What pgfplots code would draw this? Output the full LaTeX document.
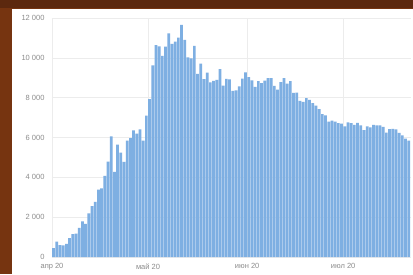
\documentclass[border=0pt]{standalone}
\usepackage{fontspec}
\setmainfont{Liberation Sans}
\usepackage{pgfplots}
\pgfplotsset{compat=1.18}
\usepackage{pgfplotstable}
\definecolor{framec}{RGB}{118,52,16}
\definecolor{framedark}{RGB}{92,40,14}
\definecolor{barc}{RGB}{126,175,226}
\definecolor{gridc}{RGB}{236,236,236}
\definecolor{tickc}{RGB}{140,140,140}
\pgfplotstableread{
d v
0 440
1 771
2 601
3 582
4 658
5 954
6 1154
7 1175
8 1459
9 1786
10 1667
11 2186
12 2558
13 2774
14 3388
15 3448
16 4070
17 4785
18 6060
19 4268
20 5642
21 5236
22 4774
23 5849
24 5966
25 6361
26 6198
27 6411
28 5841
29 7099
30 7933
31 9623
32 10633
33 10581
34 10102
35 10559
36 11231
37 10699
38 10817
39 11012
40 11656
41 10899
42 10028
43 9974
44 10598
45 9200
46 9709
47 8926
48 9263
49 8764
50 8849
51 8894
52 9434
53 8599
54 8946
55 8915
56 8338
57 8371
58 8572
59 8952
60 9268
61 9035
62 8863
63 8536
64 8831
65 8726
66 8855
67 8984
68 8985
69 8595
70 8404
71 8779
72 8987
73 8706
74 8835
75 8246
76 8248
77 7843
78 7790
79 7972
80 7889
81 7728
82 7600
83 7425
84 7176
85 7113
86 6800
87 6852
88 6791
89 6719
90 6693
91 6556
92 6760
93 6718
94 6632
95 6736
96 6611
97 6368
98 6562
99 6509
100 6635
101 6611
102 6615
103 6537
104 6248
105 6422
106 6428
107 6406
108 6234
109 6109
110 5940
111 5842
}\cases
\begin{document}
\begin{tikzpicture}
\useasboundingbox (0,0) rectangle (413pt,274pt);
\fill[framec] (0,0) rectangle (413pt,274pt);
\fill[framedark] (0,266pt) rectangle (413pt,274pt);
\fill[white] (12pt,0) rectangle (413pt,265pt);
\begin{axis}[
  at={(52pt,17pt)}, anchor=south west,
  scale only axis, width=359pt, height=239pt,
  xmin=-0.5, xmax=111.7, ymin=0, ymax=12000,
  axis line style={draw=none},
  ytick={0,2000,4000,6000,8000,10000,12000},
  xtick={-0.5,29.5,60.5,90.5},
  xticklabels={апр 20, май 20, июн 20, июл 20},
  major tick length=0pt,
  ymajorgrids, xmajorgrids,
  major grid style={draw=gridc, line width=0.6pt},
  tick label style={font=\fontsize{7.5}{9}\selectfont, text=tickc},
  yticklabel style={xshift=-4pt},
  xticklabel style={yshift=-3pt},
  /pgf/number format/assume math mode=true,
  /pgf/number format/1000 sep={\ },
  scaled y ticks=false,
]
\addplot[ybar, bar width=0.85, fill=barc, draw=none] table[x=d, y=v] {\cases};
\end{axis}
\end{tikzpicture}
\end{document}
